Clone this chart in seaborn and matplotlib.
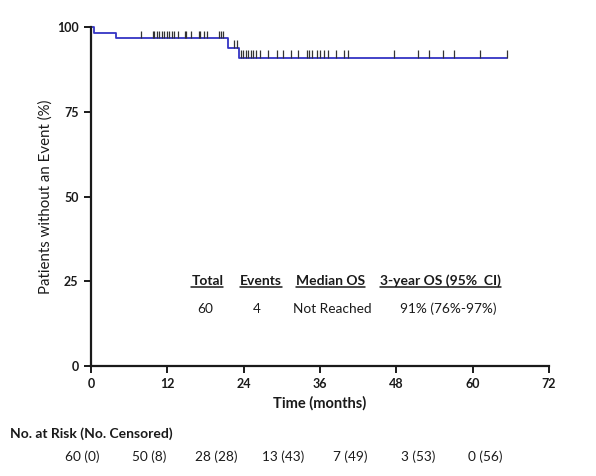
"""Kaplan-Meier overall survival with censor marks, summary inset and risk table."""

import numpy as np
import pandas as pd
import seaborn as sns
import matplotlib.pyplot as plt
from matplotlib.lines import Line2D

# Step curve (months, % without event).
step_months = [0, 0.5, 3.9, 21.5, 23.3, 65.4]
survival_pct = [100, 98.3, 96.7, 93.9, 90.9, 90.9]

# Censoring marks (months).
censor_months = [
    7.9, 9.7, 9.9, 10.4, 10.7, 11.1, 11.5, 11.9,
    12.3, 12.7, 13.1, 13.6, 14.7, 15.0, 15.7, 16.9, 17.2, 17.7, 18.3,
    20.1, 20.4, 20.8, 22.5, 22.9, 23.6, 23.9,
    24.4, 24.7, 25.1, 25.5, 26.0, 26.6, 27.8, 29.2, 30.2, 31.4, 32.6,
    33.9, 34.3, 34.7, 35.6, 36.0, 36.7, 37.3, 38.5, 39.7, 40.4, 47.6,
    51.4, 53.2, 55.4, 57.1, 61.2, 65.4,
]

x_ticks = [0, 12, 24, 36, 48, 60, 72]
y_ticks = [0, 25, 50, 75, 100]

at_risk = [60, 50, 28, 13, 7, 3, 0]
n_censored = [0, 8, 28, 43, 49, 53, 56]

summary_headers = ["Total", "Events", "Median OS", "3-year OS (95%  CI)"]
summary_values = ["60", "4", "Not Reached", "91% (76%-97%)"]

LINE_BLUE = "#3434c4"
TEXT = "#1a1a1a"

sns.set_style("ticks")
plt.rcParams["font.family"] = ["Lato", "DejaVu Sans"]

fig = plt.figure(figsize=(5.96, 4.76), dpi=100)
ax = fig.add_axes([91 / 596, 1 - 366 / 476, 458 / 596, 339 / 476])

curve = pd.DataFrame({"month": step_months, "pct": survival_pct})
sns.lineplot(data=curve, x="month", y="pct", drawstyle="steps-post",
             color=LINE_BLUE, linewidth=1.3, ax=ax, clip_on=False,
             estimator=None)

# censor ticks sit on top of the current step level
idx = np.searchsorted(step_months, censor_months, side="right") - 1
cens_y = np.asarray(survival_pct)[idx]
ax.vlines(censor_months, cens_y, cens_y + 2.2, color="#333333",
          linewidth=0.9, clip_on=False, zorder=3)

ax.set_xlim(0, 72)
ax.set_ylim(0, 100)
ax.set_xticks(x_ticks)
ax.set_yticks(y_ticks)
ax.tick_params(direction="out", length=5, width=1.4, colors=TEXT,
               labelsize=9, pad=4)
for lab in ax.get_xticklabels() + ax.get_yticklabels():
    lab.set_fontweight("bold")
for side in ["left", "bottom"]:
    ax.spines[side].set_linewidth(1.6)
    ax.spines[side].set_color(TEXT)
sns.despine(ax=ax)

ax.set_xlabel("Time (months)", fontsize=10.5, fontweight="bold", color=TEXT)
ax.xaxis.set_label_coords(0.5, -0.09)
ax.set_ylabel("Patients without an Event (%)", fontsize=10.8, color=TEXT)
ax.yaxis.set_label_coords(-0.083, 0.5)

# summary inset
head_x = [18.3, 26.7, 37.6, 54.9]
val_x = [17.9, 26.0, 37.9, 56.1]
head_texts = []
for x, h in zip(head_x, summary_headers):
    head_texts.append(ax.text(x, 24.0, h, ha="center", va="baseline",
                              fontsize=10, fontweight="bold", color=TEXT))
for x, v in zip(val_x, summary_values):
    ax.text(x, 16.8, v, ha="center", va="center", fontsize=9.8, color=TEXT)

fig.canvas.draw()
renderer = fig.canvas.get_renderer()
base_y = ax.transData.transform((0, 24.0))[1] - 2.0
for t in head_texts:
    bb = t.get_window_extent(renderer)
    fig.add_artist(Line2D([bb.x0, bb.x1], [base_y, base_y],
                          transform=None, color=TEXT, linewidth=1.1))

# number at risk table
fig.text(10 / 596, 1 - 434 / 476, "No. at Risk (No. Censored)",
         fontsize=10, fontweight="bold", color=TEXT, va="center", ha="left")
risk_x = np.linspace(82, 485, len(at_risk)) / 596
for x, n, c in zip(risk_x, at_risk, n_censored):
    fig.text(x, 1 - 457 / 476, f"{n} ({c})", fontsize=9.8, color=TEXT,
             ha="center", va="center")

fig.savefig("out.png", dpi=100)
